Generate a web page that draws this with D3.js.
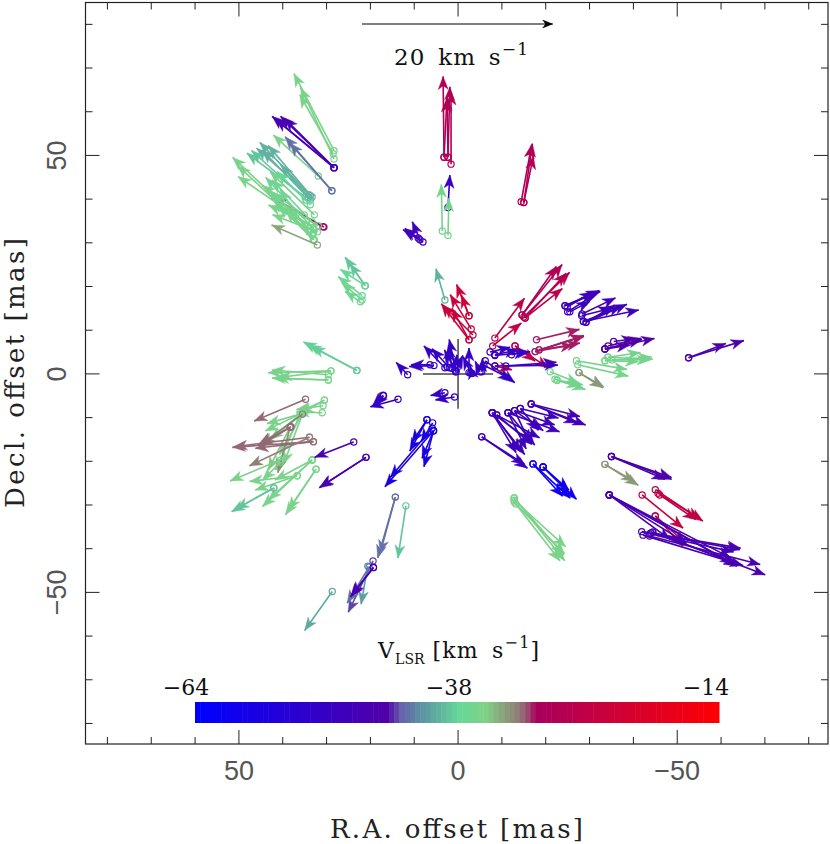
<!DOCTYPE html>
<html><head><meta charset="utf-8">
<script src="https://cdn.jsdelivr.net/npm/d3@7/dist/d3.min.js"></script>
<style>html,body{margin:0;padding:0;background:#fff}svg{display:block}</style>
</head><body><svg id="c" width="830" height="844"></svg>
<script>
// every row: [R.A. offset mas, Decl. offset mas, vRA km/s, vDecl km/s, VLSR km/s]
const northEastTop = [
 [30.8,33.7,5.4,3.0,-31],[30.6,33.6,5.3,3.1,-31],
 [28.3,51.1,4.2,8.1,-37],[28.3,49.2,3.5,7.5,-37],[28.5,50.4,3.5,6.2,-37],
 [28.3,47.2,6.5,5.4,-48],[28.3,47.2,5.6,5.4,-48],[28.3,47.2,6.1,5.1,-48],[28.3,47.2,5.2,5.2,-48],
 [31.9,45.3,4.7,4.3,-37],[28.8,41.9,4.9,5.7,-44],[28.8,41.9,4.4,5.0,-44]
];
const northEastTeal = [
 [33.7,40.8,5.3,5.6,-41],[33.3,40.5,4.6,5.4,-41],[34.2,40.3,4.8,5.0,-41],[34.0,41.0,5.5,4.9,-41],
 [34.7,39.8,5.7,5.2,-40],[34.9,40.5,6.1,4.6,-40],[33.7,39.8,3.1,3.7,-41]
];
const northEastGreen = [
 [34.9,34.1,7.6,7.1,-37],[34.0,32.5,7.5,7.0,-37],[33.0,33.4,7.9,5.4,-37],[32.8,36.4,4.6,4.5,-37],
 [33.3,34.8,4.2,4.4,-38],[33.0,32.3,4.7,4.5,-37],[33.0,30.7,4.2,4.2,-37],[33.0,30.7,3.5,5.3,-38],
 [32.8,33.0,5.1,5.5,-38],[35.1,36.4,4.4,3.1,-37],[33.7,34.1,4.4,2.1,-37],[33.3,31.8,3.6,3.1,-38],
 [31.9,33.9,5.0,3.2,-37],[32.1,32.5,4.7,1.8,-37],[33.7,38.7,3.5,3.5,-39],[32.8,30.7,3.0,3.1,-37],
 [37.0,36.4,2.5,2.4,-38],[32.1,29.5,4.8,2.1,-35]
];
const southArc = [
 [14.3,-28.2,1.85,-6.4,-44],[14.3,-28.2,1.6,-5.9,-44],[11.9,-30.2,0.84,-5.5,-40],
 [19.4,-42.8,2.6,-5.4,-45],[20.6,-44.0,0.7,-4.0,-42],[20.3,-44.2,2.3,-3.8,-44],
 [19.3,-44.3,2.4,-3.1,-48],[19.3,-44.3,2.3,-2.9,-48],[28.7,-49.8,2.9,-4.1,-41.5]
];
const southEastLeftGreen = [
 [34.8,-5.8,5.4,-2.3,-33],[30.5,-6.0,2.7,-1.3,-37],[30.8,-7.3,2.8,-0.4,-37],[31.0,-8.9,2.7,0.1,-37],
 [30.5,-6.0,2.5,-1.5,-37],[35.5,-8.9,3.9,-1.9,-37],[36.0,-9.2,3.5,-1.0,-37],[34.8,-8.5,3.7,-3.0,-37],
 [35.3,-8.7,4.3,-3.5,-37],[35.5,-9.2,2.0,-5.3,-37],[36.0,-9.2,2.6,-5.9,-37],[35.5,-8.9,2.4,-4.4,-37],
 [38.3,-12.2,2.3,-4.5,-36],[38.3,-12.2,1.3,-4.8,-34],[35.5,-9.2,4.4,-3.2,-33.5],
 [38.3,-12.2,3.4,-1.9,-33],[38.1,-12.1,3.3,-2.0,-33],
 [33.0,-15.5,8.5,-0.6,-33],[33.0,-15.5,6.1,-0.7,-33],[33.9,-14.5,7.9,-1.0,-33],[33.9,-14.5,6.3,-3.0,-33.5]
];
const southEastLowerGreen = [
 [40.5,-19.7,5.3,-2.2,-37],[36.7,-23.3,5.0,-0.6,-37],[36.7,-23.3,4.4,-1.5,-37],
 [32.4,-21.8,3.2,-4.8,-37],[32.4,-21.8,2.9,-4.3,-37],[33.3,-19.7,5.2,-4.9,-37],[33.3,-19.7,4.6,-4.2,-37],
 [33.3,-19.7,3.9,-2.1,-37],[40.5,-20.2,1.9,-1.9,-37],[42.1,-26.1,4.4,-2.5,-40],[42.0,-26.1,4.0,-2.2,-40],
 [23.8,-15.6,4.1,-1.6,-48],[21.0,-19.1,4.9,-3.2,-48],[21.0,-19.1,4.8,-3.1,-48]
];
const eastMiddleGreen = [
 [23.1,0.8,5.6,3.0,-39.5],[23.1,0.8,5.1,2.7,-39.5],[23.1,0.8,4.7,2.5,-39.5],
 [29.0,0.7,6.6,-0.2,-37],[29.6,-0.2,5.9,0.5,-37],[29.6,-1.4,5.5,0.2,-37],[29.0,0.7,5.5,-0.7,-37],[29.6,-1.4,5.9,0.2,-37]
];
const centre = [
 [13.7,-5.8,2.9,-0.8,-52],[17.0,-5.0,0.9,-1.0,-52],[17.1,-4.9,1.1,-1.1,-52],[3.0,-4.3,1.5,-0.3,-52],[0.8,-5.3,2.0,-0.3,-52],
 [11.5,-0.2,1.2,1.3,-52],[5.5,1.9,2.6,-0.1,-52],[6.4,2.1,2.0,0,-52],[3.0,1.4,2.2,2.3,-52],[2.0,1.4,1.8,2.0,-52],
 [0.5,0.5,0.7,3.4,-52],[1.4,1.3,0.35,2.4,-52],[0.5,0.5,1.2,2.3,-52],[2.5,1.6,-0.3,2.1,-52],
 [0.7,0.9,-0.2,1.6,-52],[0.2,1.4,-0.6,1.3,-52],[-2.5,0.3,0,2.6,-52],[-2.9,0.2,0.8,1.7,-52],[-3.2,0.1,0.2,0.8,-52],
 [-5.0,0.5,0.5,1.1,-52],[-5.4,0.5,-0.1,1.4,-52],[-6.2,3.0,-3.1,-2.3,-52],[-5.9,2.0,-2.9,-1.5,-52],
 [-13.0,6.4,-3.5,-2.3,-28],[-13.0,6.4,-2.1,-1.6,-28],[-8.4,1.8,-1.8,-0.4,-27],
 [-10.9,1.8,-5.3,0.4,-50],[-8.4,1.8,-6.6,0.1,-50],[-8.4,4.4,-2.4,0.5,-52],[-8.4,4.2,-3.7,0.4,-50],
 [-12.2,4.4,-1.6,0.3,-52],[-7.3,5.0,-2.1,0.5,-52]
];
const northCrimson = [
 [3.0,16.9,0.94,3.3,-41],
 [-2.5,13.3,1.3,3.3,-25],[-2.5,7.8,2.9,3.8,-25],[-3.0,10.3,2.2,3.6,-25],[-3.4,8.9,3.1,3.1,-25],[-2.5,7.8,1.8,3.3,-25],[-2.5,13.3,0.8,2.2,-25],
 [-8.4,8.2,-3.1,4.2,-27],[-7.9,6.4,-3.0,2.4,-27],
 [-14.6,13.5,-4.2,5.3,-30],[-14.6,13.5,-3.6,5.1,-30],[-15.0,13.0,-4.8,4.7,-29],[-15.3,12.8,-4.3,4.7,-29],[-15.3,12.8,-3.9,3.1,-28],
 [-17.9,7.8,-4.5,1.1,-32],[-17.6,5.1,-5.1,1.7,-32],[-18.5,5.5,-4.7,1.4,-32],[-17.6,5.1,-4.7,0.9,-32],[-18.5,5.5,-3.6,0.5,-32]
];
const northEastPurple = [
 [-24.4,15.6,-3.7,1.5,-50],[-24.4,15.6,-3.6,1.6,-50],[-25.0,14.2,-2.8,1.8,-50],[-25.5,14.2,-2.1,1.1,-50],[-24.9,15.3,-2.7,1.6,-50],
 [-28.3,13.7,-3.5,1.7,-50],[-28.6,12.0,-5.8,1.2,-50],[-29.2,11.8,-4.3,1.9,-50],[-28.6,12.0,-4.0,1.6,-50],[-29.2,11.8,-3.0,1.8,-50],[-28.2,13.3,-3.1,0.8,-50],
 [-33.5,5.7,-5.2,1.1,-46],[-33.5,5.7,-3.9,1.0,-46],[-34.2,6.4,-3.5,0.8,-46],[-35.5,7.4,-2.2,0.3,-46],[-33.5,5.7,-2.6,0.4,-46],
 [-52.6,3.7,-5.8,1.8,-47],[-52.6,3.7,-3.9,1.5,-47]
];
const eastGreen = [
 [-34.2,3.8,-4.7,-0.2,-37.5],[-33.5,3.0,-4.9,0.4,-37.5],[-35.1,3.2,-4.0,0,-37.5],[-34.2,3.8,-3.4,0.5,-37.5],[-33.5,3.0,-3.5,-0.1,-37.5],
 [-27.0,3.0,-5.3,-0.9,-37.5],[-27.3,2.1,-5.3,-1.2,-37.5],
 [-27.6,0.3,-2.6,-1.5,-34.5],[-27.6,0.3,-2.5,-1.6,-34.5],
 [-21.0,0.5,-3.0,-1.2,-37.5],[-22.1,-1.2,-3.2,-1.1,-37.5],[-22.6,-1.5,-2.4,-0.6,-37.5],[-22.6,-1.4,-2.7,-0.5,-37.5]
];
const southWestPurple = [
 [-5.4,-14.4,-4.8,-3.3,-50],[-5.4,-14.4,-4.5,-2.9,-50],
 [-7.8,-8.9,-3.4,-4.4,-50],[-7.8,-8.9,-4.3,-3.2,-50],[-7.8,-8.9,-3.0,-4.1,-50],[-7.8,-8.9,-2.5,-4.2,-50],
 [-8.8,-9.4,-4.5,-2.4,-50],[-8.8,-9.4,-3.7,-3.1,-50],[-11.4,-8.9,-2.8,-3.4,-50],[-11.4,-8.9,-1.9,-3.8,-50],
 [-12.9,-8.4,-3.0,-2.1,-50],[-12.9,-8.4,-1.6,-3.4,-50],[-14.2,-7.9,-1.9,-2.3,-50],[-14.2,-7.9,-4.0,-1.0,-50],
 [-11.4,-8.9,-5.4,-2.0,-50],[-12.9,-8.4,-4.2,-1.5,-50],[-16.7,-6.9,-5.7,-2.2,-49],[-16.7,-6.9,-5.1,-1.3,-49],[-16.7,-6.9,-4.8,-2.0,-49],
 [-17.1,-20.6,-3.9,-3.6,-60],[-17.1,-20.6,-3.1,-3.4,-60],[-19.4,-21.3,-3.5,-3.4,-60],[-19.4,-21.3,-2.7,-2.4,-60],[-19.4,-21.3,-2.8,-2.8,-60]
];
const southWestGreen = [
 [-12.8,-28.4,-5.3,-6.6,-37],[-12.8,-28.9,-5.4,-4.9,-37],[-12.8,-29.3,-4.8,-6.2,-37],[-13.2,-29.8,-5.1,-5.2,-37],[-12.8,-28.4,-5.2,-6.0,-37]
];
const farSouthWest = [
 [-33.5,-20.7,-3.5,-2.2,-34.5],[-33.5,-20.7,-3.1,-1.8,-34.5],
 [-35.0,-18.9,-6.3,-2.4,-47],[-35.0,-18.9,-6.3,-2.2,-47],[-35.0,-18.9,-5.6,-2.4,-47],
 [-45.0,-26.5,-5.0,-3.3,-27],[-45.6,-27.3,-4.4,-2.7,-27],[-46.0,-27.7,-3.8,-2.6,-27],
 [-42.0,-27.7,-4.3,-3.5,-26],[-45.0,-32.5,-3.2,-2.9,-28],[-45.0,-32.5,-2.9,-3.2,-28],
 [-34.5,-27.7,-13.0,-7.2,-48],[-34.5,-27.7,-13.4,-7.5,-48],[-34.5,-27.7,-12.7,-6.6,-48],[-34.5,-27.7,-8.1,-5.1,-48],[-34.5,-27.7,-6.4,-4.7,-48],
 [-41.9,-36.1,-10.3,-1.9,-48],[-42.2,-36.9,-10.5,-3.2,-48],[-43.7,-37.1,-11.6,-3.0,-48],[-44.4,-36.2,-11.8,-4.5,-48],
 [-44.4,-36.2,-8.9,-3.3,-48],[-43.7,-36.6,-8.8,-1.9,-48],[-44.0,-36.4,-9.4,-1.6,-48]
];
const northTop = [
 [3.2,49.6,0.1,8.5,-30],[2.3,49.6,-0.2,7.4,-30],[1.6,48.0,0,7.6,-30],[2.3,49.6,0.1,6.3,-30],[3.2,49.6,-0.3,6.1,-30],
 [-15.0,39.2,-0.9,6.2,-30],[-14.4,39.4,-1.1,6.0,-30],[-15.0,39.2,-1.0,4.9,-30],
 [2.3,38.1,-0.2,3.4,-52],[3.6,32.7,0.1,4.9,-37.5],[2.3,31.7,-0.1,3.9,-37.5],
 [8.0,30.2,2.1,1.3,-50],[8.7,30.7,0.8,1.9,-50],[9.1,31.1,1.4,1.0,-50]
];
const northWestTeal = [
 [21.2,20.2,2.1,3.0,-40],[21.2,20.2,1.6,2.3,-40],[21.9,17.9,2.5,2.0,-38],[21.9,16.9,2.1,1.8,-38],[22.3,16.5,1.6,1.1,-38],[21.2,20.2,2.6,1.7,-39]
];
const southCentreBlue = [
 [7.1,-10.5,1.8,-3.3,-58],[7.1,-10.5,1.6,-2.4,-58],[5.8,-11.2,1.2,-2.0,-58],[5.6,-13.0,1.0,-3.8,-58],[5.6,-13.0,1.2,-2.9,-58],
 [5.6,-13.0,5.1,-5.9,-58],[5.9,-12.4,4.4,-5.2,-58]
];
const maserGroups = [northCrimson, centre, northEastTop, northEastTeal, northEastGreen, southArc, southEastLeftGreen, southEastLowerGreen,
 eastMiddleGreen, northEastPurple, eastGreen, southWestPurple, southWestGreen, farSouthWest, northTop, northWestTeal, southCentreBlue];

const xTicks = [50, 0, -50];
const yTicks = [50, 0, -50];
const barLabels = ["−64", "−38", "−14"];
const colorVelocity = [-64, -46, -44.5, -42.5, -39, -36.5, -34.5, -33.3, -32.6, -31.7, -14];
const colorValues = ["#0000ff", "#5000a8", "#6664aa", "#5c96a2", "#66d898", "#80d088", "#8a9a78", "#907a78", "#9a5070", "#a8005f", "#ff0000"];
const keySpeed = 20;
const masPerKms = 2.175;

const svg = d3.select("#c");
const x = d3.scaleLinear().domain([85, -84.4]).range([85.5, 828]);
const y = d3.scaleLinear().domain([85.0, -84.7]).range([2.5, 744]);
const vColor = d3.scaleLinear().domain(colorVelocity).range(colorValues).clamp(true);

const SERIF = "'DejaVu Serif', serif";
const SANS = "'Liberation Sans', sans-serif";

// frame & ticks
const frame = svg.append("g").attr("stroke", "#222").attr("fill", "none");
frame.append("rect").attr("x", x.range()[0]).attr("y", y.range()[0])
  .attr("width", x.range()[1] - x.range()[0]).attr("height", y.range()[1] - y.range()[0]).attr("stroke-width", 1.2);
d3.range(-80, 81, 10).forEach(d => {
  const len = d % 50 === 0 ? 14 : 7;
  frame.append("line").attr("x1", x(d)).attr("x2", x(d)).attr("y1", y.range()[0]).attr("y2", y.range()[0] + len);
  frame.append("line").attr("x1", x(d)).attr("x2", x(d)).attr("y1", y.range()[1]).attr("y2", y.range()[1] - len);
  frame.append("line").attr("y1", y(d)).attr("y2", y(d)).attr("x1", x.range()[0]).attr("x2", x.range()[0] + len);
  frame.append("line").attr("y1", y(d)).attr("y2", y(d)).attr("x1", x.range()[1]).attr("x2", x.range()[1] - len);
});

svg.append("g").selectAll("text").data(xTicks).join("text")
  .attr("x", d => x(d)).attr("y", 780).attr("text-anchor", "middle")
  .attr("font-family", SANS).attr("font-size", 27).attr("fill", "#555")
  .text(d => String(d).replace("-", "−"));
svg.append("g").selectAll("text").data(yTicks).join("text")
  .attr("transform", d => `translate(66,${y(d)}) rotate(-90)`).attr("text-anchor", "middle")
  .attr("font-family", SANS).attr("font-size", 27).attr("fill", "#555")
  .text(d => String(d).replace("-", "−"));

svg.append("text").attr("x", 456.5).attr("y", 838).attr("text-anchor", "middle")
  .attr("font-family", SERIF).attr("font-size", 26).attr("fill", "#222")
  .attr("textLength", 253).attr("lengthAdjust", "spacing").text("R.A. offset [mas]");
svg.append("text").attr("transform", "translate(24,373) rotate(-90)").attr("text-anchor", "middle")
  .attr("font-family", SERIF).attr("font-size", 26).attr("fill", "#222")
  .attr("textLength", 270).attr("lengthAdjust", "spacing").text("Decl. offset [mas]");

// origin cross
const cross = svg.append("g").attr("stroke", "#444").attr("stroke-width", 1.5);
cross.append("line").attr("x1", x(8)).attr("x2", x(-8)).attr("y1", y(0)).attr("y2", y(0));
cross.append("line").attr("x1", x(0)).attr("x2", x(0)).attr("y1", y(8)).attr("y2", y(-8));

function arrowHead(sel, x0, y0, x1, y1, color, L, W) {
  const a = Math.atan2(y1 - y0, x1 - x0), c = Math.cos(a), s = Math.sin(a);
  const pt = (u, v) => [x1 + u * c - v * s, y1 + u * s + v * c].map(n => n.toFixed(1)).join(",");
  sel.append("polygon").attr("points", [pt(0, 0), pt(-L, W / 2), pt(-L * 0.72, 0), pt(-L, -W / 2)].join(" "))
    .attr("fill", color).attr("stroke", color).attr("stroke-width", 0.4);
}

// maser features
const features = svg.append("g");
maserGroups.flat().forEach(([ra, dec, vr, vd, v]) => {
  const c = vColor(v);
  const px = x(ra), py = y(dec), qx = x(ra + vr * masPerKms), qy = y(dec + vd * masPerKms);
  const g = features.append("g");
  g.append("line").attr("x1", px).attr("y1", py).attr("x2", qx).attr("y2", qy).attr("stroke", c).attr("stroke-width", 1.6);
  g.append("circle").attr("cx", px).attr("cy", py).attr("r", 3.1).attr("fill", "none").attr("stroke", c).attr("stroke-width", 1.2);
  arrowHead(g, px, py, qx, qy, c, 13, 10);
});

// scale arrow
const key = svg.append("g");
const kx0 = 362, kx1 = kx0 + Math.abs(x(keySpeed * masPerKms) - x(0));
key.append("line").attr("x1", kx0).attr("x2", kx1).attr("y1", 24).attr("y2", 24).attr("stroke", "#000").attr("stroke-width", 1.2);
arrowHead(key, kx0, 24, kx1, 24, "#000", 10, 8);
const keyText = svg.append("text").attr("x", 394).attr("y", 65).attr("font-family", SERIF).attr("font-size", 23).attr("fill", "#111").attr("word-spacing", 4).attr("letter-spacing", 1.2);
keyText.append("tspan").text(keySpeed + " km s");
keyText.append("tspan").attr("dy", -10).attr("font-size", 17).text("−1");

// velocity title
const vt = svg.append("text").attr("x", 378).attr("y", 658).attr("font-family", SERIF).attr("font-size", 22).attr("fill", "#111").attr("word-spacing", 5).attr("letter-spacing", 1.2);
vt.append("tspan").text("V");
vt.append("tspan").attr("dy", 6).attr("font-size", 14).attr("letter-spacing", 0).text("LSR");
vt.append("tspan").attr("dy", -6).attr("dx", 8).text("[km s");
vt.append("tspan").attr("dy", -10).attr("font-size", 16).text("−1");
vt.append("tspan").attr("dy", 10).text("]");

// colour bar
const barX = d3.scaleLinear().domain([-64, -14]).range([195, 719]);
svg.append("g").selectAll("rect").data(d3.range(-64, -14, 0.5)).join("rect")
  .attr("x", d => barX(d)).attr("y", 702).attr("width", d => barX(d + 0.5) - barX(d) + 0.5).attr("height", 21)
  .attr("fill", d => vColor(d));
svg.append("g").selectAll("text").data(barLabels).join("text")
  .attr("x", (d, i) => [186, 449, 706][i]).attr("y", 695).attr("text-anchor", "middle")
  .attr("font-family", SERIF).attr("font-size", 22).attr("fill", "#111").text(d => d);
</script></body></html>
